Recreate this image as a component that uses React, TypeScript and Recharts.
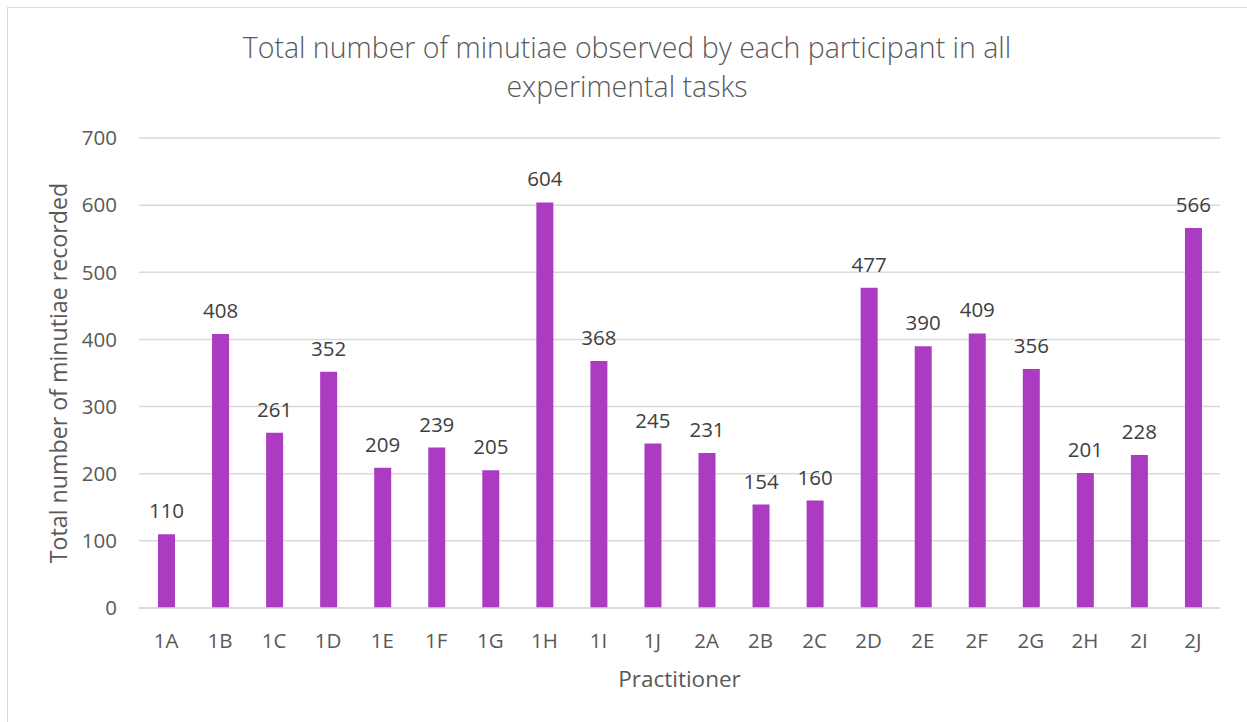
import React from "react";
import { BarChart, Bar, XAxis, YAxis, CartesianGrid, LabelList, Label } from "recharts";

const practitioners = ["1A","1B","1C","1D","1E","1F","1G","1H","1I","1J","2A","2B","2C","2D","2E","2F","2G","2H","2I","2J"];
const minutiae = [110,408,261,352,209,239,205,604,368,245,231,154,160,477,390,409,356,201,228,566];
const yTicks = [0,100,200,300,400,500,600,700];
const titleLines = ["Total number of minutiae observed by each participant in all", "experimental tasks"];

const data = practitioners.map((p, i) => ({ name: p, value: minutiae[i] }));

const FONT = "'Open Sans', 'Noto Sans', sans-serif";
const TEXT = "#595959";

export default function App() {
  return (
    <div style={{ position: "fixed", left: 0, top: 0, width: 1247, height: 722, background: "#fff", fontFamily: FONT }}>
      <div style={{ position: "absolute", left: 7, top: 7, width: 1250, height: 730, border: "1px solid #D9D9D9", boxSizing: "border-box" }} />
      <div style={{ position: "absolute", left: 0, top: 0 }}>
        <BarChart width={1247} height={722} data={data} margin={{ top: 138, right: 27, bottom: 84, left: 0 }}>
          <text x={627} y={58} textAnchor="middle" fill={TEXT} fontSize={28.5} fontFamily={FONT} fontWeight={300}>{titleLines[0]}</text>
          <text x={627} y={97} textAnchor="middle" fill={TEXT} fontSize={28.5} fontFamily={FONT} fontWeight={300}>{titleLines[1]}</text>
          <CartesianGrid vertical={false} stroke="#D9D9D9" strokeWidth={1.5} />
          <XAxis dataKey="name" height={30} tickLine={false} tickSize={0} tickMargin={25} axisLine={{ stroke: "#D9D9D9", strokeWidth: 1.5 }} tick={{ fill: TEXT, fontSize: 20.5, fontFamily: FONT }} interval={0}>
            <Label content={(props: any) => {
              const vb = props.viewBox;
              return <text x={vb.x + vb.width / 2} y={687} textAnchor="middle" fill={TEXT} fontSize={22.5} fontFamily={FONT}>Practitioner</text>;
            }} />
          </XAxis>
          <YAxis width={139} domain={[0, 700]} ticks={yTicks} tickLine={false} axisLine={false} tickSize={0} tickMargin={22} tick={{ fill: TEXT, fontSize: 20.5, fontFamily: FONT }}>
            <Label content={(props: any) => {
              const vb = props.viewBox;
              const cy = vb.y + vb.height / 2;
              return <text x={67} y={cy} transform={`rotate(-90 67 ${cy})`} textAnchor="middle" fill={TEXT} fontSize={23.2} fontFamily={FONT}>Total number of minutiae recorded</text>;
            }} />
          </YAxis>
          <Bar dataKey="value" fill="#AB3CC1" barSize={17} isAnimationActive={false}>
            <LabelList dataKey="value" position="top" offset={16} fill="#404040" fontSize={20.5} fontFamily={FONT} />
          </Bar>
        </BarChart>
      </div>
    </div>
  );
}
